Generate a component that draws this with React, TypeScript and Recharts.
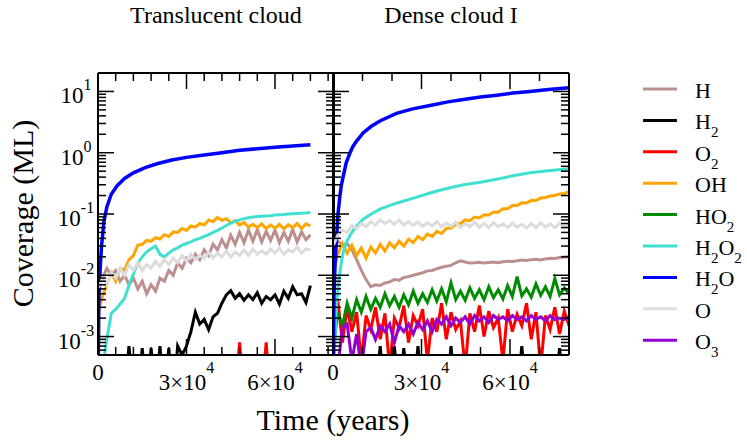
import { LineChart, Line, XAxis, YAxis, Legend } from 'recharts';

const FONT = '"Liberation Serif", "Times New Roman", Times, serif';
const W = 747;
const H = 442;

// time grids (years)
const leftTime = [
  0, 1500, 3000, 4500, 6000, 7500, 9000, 10500, 12000, 13500,
  15000, 16500, 18000, 19500, 21000, 22500, 24000, 25500, 27000, 28500,
  30000, 31500, 33000, 34500, 36000, 37500, 39000, 40500, 42000, 43500,
  45000, 46500, 48000, 49500, 51000, 52500, 54000, 55500, 57000, 58500,
  60000, 61500, 63000, 64500, 66000, 67500, 69000, 70500, 72000,
];
const leftSmoothTime = [
  0, 300, 700, 1200, 2000, 3000, 4500, 6500, 9000, 12000, 16000, 20000,
  25000, 30000, 36000, 42000, 48000, 54000, 60000, 66000, 72000,
];
const rightTime = [
  0, 1600, 3200, 4800, 6400, 8000, 9600, 11200, 12800, 14400,
  16000, 17600, 19200, 20800, 22400, 24000, 25600, 27200, 28800, 30400,
  32000, 33600, 35200, 36800, 38400, 40000, 41600, 43200, 44800, 46400,
  48000, 49600, 51200, 52800, 54400, 56000, 57600, 59200, 60800, 62400,
  64000, 65600, 67200, 68800, 70400, 72000, 73600, 75200, 76800, 78400,
  80000,
];
const rightSmoothTime = [
  0, 300, 700, 1200, 1700, 2300, 2800, 3500, 4500, 5700, 6800, 8000, 10200,
  13000, 15900, 21500, 27000, 32900, 38500, 44200, 50000, 55500, 61000,
  66800, 73000, 80000,
];

// Translucent cloud, coverage (ML)
const leftH = [
  0.012, 0.009, 0.013, 0.010, 0.012, 0.008, 0.010, 0.007, 0.009, 0.006,
  0.008, 0.005, 0.007, 0.0055, 0.009, 0.008, 0.012, 0.010, 0.016, 0.013,
  0.019, 0.016, 0.022, 0.018, 0.026, 0.021, 0.032, 0.026, 0.038, 0.028,
  0.045, 0.032, 0.050, 0.034, 0.055, 0.036, 0.056, 0.035, 0.052, 0.037,
  0.055, 0.034, 0.050, 0.036, 0.056, 0.035, 0.051, 0.038, 0.046,
];
const leftH2 = [
  0.0001, 0.0001, 0.0001, 0.0001, 0.0001, 0.0001, 0.0001, 0.0007, 0.0001, 0.0001,
  0.00065, 0.0001, 0.00065, 0.0001, 0.0007, 0.0001, 0.00065, 0.0001, 0.0007, 0.0005,
  0.0007, 0.0012, 0.0025, 0.0016, 0.0019, 0.0013, 0.0021, 0.0024, 0.0035, 0.0048,
  0.0056, 0.0042, 0.0050, 0.0039, 0.0048, 0.0040, 0.0052, 0.0035, 0.0045, 0.0040,
  0.0048, 0.0034, 0.0055, 0.0042, 0.0065, 0.0048, 0.0050, 0.0036, 0.0068,
];
const leftO2 = [
  0.0001, 0.0001, 0.0001, 0.0001, 0.0001, 0.0001, 0.0001, 0.0001, 0.0001, 0.0001,
  0.0001, 0.0001, 0.0001, 0.0001, 0.0001, 0.0001, 0.0001, 0.0001, 0.0001, 0.0001,
  0.0001, 0.0001, 0.0001, 0.0001, 0.0001, 0.0001, 0.0001, 0.0001, 0.0001, 0.0001,
  0.0001, 0.0001, 0.0008, 0.0001, 0.0001, 0.0001, 0.0001, 0.0001, 0.0008, 0.0001,
  0.0001, 0.0001, 0.0001, 0.0001, 0.0001, 0.0001, 0.0001, 0.0001, 0.0001,
];
const leftOH = [
  0.0025, 0.0045, 0.007, 0.011, 0.008, 0.013, 0.012, 0.018, 0.021, 0.031,
  0.032, 0.037, 0.036, 0.041, 0.039, 0.046, 0.043, 0.051, 0.050, 0.058,
  0.054, 0.064, 0.061, 0.070, 0.066, 0.080, 0.075, 0.088, 0.079, 0.084,
  0.072, 0.078, 0.066, 0.073, 0.061, 0.068, 0.060, 0.069, 0.058, 0.066,
  0.059, 0.068, 0.057, 0.067, 0.060, 0.070, 0.058, 0.069, 0.064,
];
const leftH2O2 = [
  0.0002, 0.0003, 0.0009, 0.0024, 0.0028, 0.0034, 0.0042, 0.0068, 0.0105, 0.016,
  0.020, 0.024, 0.027, 0.030, 0.022, 0.020, 0.023, 0.026, 0.028, 0.031,
  0.033, 0.035, 0.038, 0.040, 0.043, 0.046, 0.050, 0.054, 0.059, 0.065,
  0.071, 0.076, 0.080, 0.084, 0.087, 0.089, 0.091, 0.092, 0.093, 0.094,
  0.096, 0.097, 0.098, 0.100, 0.101, 0.102, 0.103, 0.104, 0.106,
];
const leftH2O = [
  0.0001, 0.004, 0.012, 0.03, 0.075, 0.13, 0.21, 0.29, 0.38, 0.47, 0.57,
  0.66, 0.76, 0.84, 0.92, 1.0, 1.1, 1.16, 1.23, 1.29, 1.35,
];
const leftO = [
  0.006, 0.009, 0.007, 0.011, 0.009, 0.013, 0.010, 0.015, 0.012, 0.016,
  0.012, 0.015, 0.013, 0.017, 0.014, 0.018, 0.015, 0.019, 0.016, 0.021,
  0.017, 0.022, 0.018, 0.021, 0.019, 0.024, 0.019, 0.023, 0.020, 0.025,
  0.020, 0.024, 0.021, 0.026, 0.021, 0.027, 0.022, 0.025, 0.022, 0.027,
  0.023, 0.028, 0.022, 0.026, 0.024, 0.029, 0.023, 0.027, 0.026,
];

// Dense cloud I, coverage (ML)
const rightH = [
  0.030, 0.036, 0.031, 0.033, 0.026, 0.018, 0.012, 0.0085, 0.0065, 0.0070,
  0.0068, 0.0075, 0.0078, 0.0085, 0.0083, 0.0092, 0.0095, 0.0100, 0.0105, 0.0110,
  0.0118, 0.0120, 0.0128, 0.0135, 0.0140, 0.0145, 0.0160, 0.0172, 0.0165, 0.0158,
  0.0160, 0.0163, 0.0158, 0.0162, 0.0165, 0.0160, 0.0166, 0.0170, 0.0168, 0.0172,
  0.0178, 0.0175, 0.0180, 0.0182, 0.0178, 0.0185, 0.0190, 0.0188, 0.0195, 0.0198,
  0.0200,
];
const rightH2 = [
  0.0001, 0.0001, 0.0001, 0.0001, 0.0001, 0.0001, 0.0001, 0.0001, 0.0001, 0.0001,
  0.0007, 0.0001, 0.0001, 0.0007, 0.0001, 0.00065, 0.0001, 0.0001, 0.0007, 0.0001,
  0.0001, 0.0001, 0.0001, 0.0001, 0.0001, 0.0007, 0.0001, 0.0001, 0.0001, 0.0001,
  0.0001, 0.0001, 0.0001, 0.0001, 0.0001, 0.0001, 0.0001, 0.0001, 0.0001, 0.0001,
  0.0007, 0.0001, 0.0001, 0.0001, 0.0001, 0.0001, 0.0001, 0.0001, 0.00065, 0.0001,
  0.0001,
];
const rightO2 = [
  0.002, 0.004, 0.0008, 0.003, 0.0012, 0.0025, 0.0004, 0.0022, 0.0013, 0.003,
  0.0009, 0.0024, 0.0003, 0.002, 0.0014, 0.0032, 0.0008, 0.0022, 0.0015, 0.0028,
  0.0004, 0.002, 0.0012, 0.0035, 0.0009, 0.0025, 0.0013, 0.0018, 0.0003, 0.0024,
  0.0012, 0.0032, 0.001, 0.0026, 0.0014, 0.002, 0.0004, 0.0028, 0.0012, 0.0023,
  0.0015, 0.0035, 0.0009, 0.0025, 0.0003, 0.0022, 0.0013, 0.003, 0.0011, 0.0026,
  0.0015,
];
const rightOH = [
  0.010, 0.022, 0.033, 0.023, 0.031, 0.021, 0.028, 0.019, 0.029, 0.023,
  0.032, 0.025, 0.034, 0.028, 0.036, 0.030, 0.039, 0.034, 0.043, 0.038,
  0.047, 0.043, 0.052, 0.048, 0.058, 0.059, 0.068, 0.070, 0.080, 0.078,
  0.089, 0.086, 0.097, 0.096, 0.108, 0.107, 0.122, 0.122, 0.137, 0.137,
  0.152, 0.151, 0.167, 0.166, 0.182, 0.186, 0.197, 0.201, 0.212, 0.216,
  0.232,
];
const rightHO2 = [
  0.0006, 0.0025, 0.0015, 0.0035, 0.002, 0.004, 0.0025, 0.0045, 0.0028, 0.0042,
  0.003, 0.005, 0.0032, 0.0045, 0.003, 0.0048, 0.0033, 0.0055, 0.0035, 0.005,
  0.0036, 0.0058, 0.0038, 0.006, 0.0037, 0.0075, 0.004, 0.0055, 0.0039, 0.0062,
  0.0042, 0.0058, 0.004, 0.0065, 0.0043, 0.0058, 0.0041, 0.0068, 0.0045, 0.0095,
  0.0046, 0.006, 0.0044, 0.0072, 0.0047, 0.0065, 0.0045, 0.0088, 0.0048, 0.0062,
  0.005,
];
const rightH2O2 = [
  0.0001, 0.0003, 0.001, 0.0034, 0.006, 0.011, 0.016, 0.024, 0.034, 0.044,
  0.054, 0.063, 0.082, 0.10, 0.12, 0.15, 0.18, 0.22, 0.26, 0.30, 0.33, 0.37,
  0.42, 0.47, 0.51, 0.55,
];
const rightH2O = [
  0.0001, 0.004, 0.015, 0.04, 0.1, 0.19, 0.29, 0.42, 0.69, 0.98, 1.28, 1.55,
  2.1, 2.7, 3.3, 4.4, 5.2, 5.9, 6.7, 7.4, 8.1, 8.7, 9.4, 10.0, 10.8, 11.5,
];
const rightO = [
  0.030, 0.045, 0.055, 0.050, 0.065, 0.058, 0.070, 0.062, 0.075, 0.066,
  0.080, 0.070, 0.078, 0.068, 0.080, 0.066, 0.075, 0.065, 0.074, 0.063,
  0.072, 0.064, 0.075, 0.062, 0.071, 0.063, 0.074, 0.060, 0.070, 0.062,
  0.073, 0.061, 0.070, 0.060, 0.072, 0.062, 0.069, 0.060, 0.071, 0.061,
  0.068, 0.059, 0.070, 0.060, 0.072, 0.061, 0.069, 0.060, 0.071, 0.062,
  0.068,
];
const rightO3 = [
  0.0001, 0.0003, 0.0014, 0.0016, 0.0004, 0.0011, 0.0003, 0.0012, 0.0014, 0.0009,
  0.0015, 0.0012, 0.0016, 0.0008, 0.0015, 0.0012, 0.0016, 0.0011, 0.0017, 0.0013,
  0.0018, 0.0012, 0.0019, 0.0016, 0.0021, 0.0015, 0.002, 0.0017, 0.0021, 0.0016,
  0.0022, 0.0018, 0.0021, 0.0017, 0.0022, 0.0019, 0.0021, 0.0018, 0.0022, 0.0019,
  0.0021, 0.0018, 0.0022, 0.0019, 0.0021, 0.0018, 0.0022, 0.0019, 0.002, 0.0019,
  0.0021,
];

// ticks
const yDecades = [0.001, 0.01, 0.1, 1, 10];
const yMinorSteps = [2, 3, 4, 5, 6, 7, 8, 9];
const yTicks = [
  0.0005, 0.0006, 0.0007, 0.0008, 0.0009,
  ...yDecades.flatMap((d) => [d, ...yMinorSteps.map((m) => d * m).filter((v) => v < 20)]),
];
const leftXTicks = [0, 6000, 12000, 18000, 24000, 30000, 36000, 42000, 48000, 54000, 60000, 66000, 72000, 78000];
const rightXTicks = [0, 10000, 20000, 30000, 40000, 50000, 60000, 70000];
const xMajor = [0, 30000, 60000];
const xLabels: Record<number, [string, string]> = {
  0: ['0', ''],
  30000: ['3×10', '4'],
  60000: ['6×10', '4'],
};

const colors: Record<string, string> = {
  H: '#bc8f8f',
  H2: '#000000',
  O2: '#ff0000',
  OH: '#ffa500',
  HO2: '#008c00',
  H2O2: '#40e0d0',
  H2O: '#0000ff',
  O: '#dcdcdc',
  O3: '#9400d3',
};
const legendOrder = ['H', 'H2', 'O2', 'OH', 'HO2', 'H2O2', 'H2O', 'O', 'O3'];

const pair = (t: number[], v: number[]) => t.map((x, i) => ({ t: x, v: v[i] }));

const leftSeries = [
  { name: 'H', data: pair(leftTime, leftH) },
  { name: 'H2', data: pair(leftTime, leftH2) },
  { name: 'O2', data: pair(leftTime, leftO2) },
  { name: 'OH', data: pair(leftTime, leftOH) },
  { name: 'H2O2', data: pair(leftTime, leftH2O2) },
  { name: 'H2O', data: pair(leftSmoothTime, leftH2O) },
  { name: 'O', data: pair(leftTime, leftO) },
];
const rightSeries = [
  { name: 'H', data: pair(rightTime, rightH) },
  { name: 'H2', data: pair(rightTime, rightH2) },
  { name: 'O2', data: pair(rightTime, rightO2) },
  { name: 'OH', data: pair(rightTime, rightOH) },
  { name: 'HO2', data: pair(rightTime, rightHO2) },
  { name: 'H2O2', data: pair(rightSmoothTime, rightH2O2) },
  { name: 'H2O', data: pair(rightSmoothTime, rightH2O) },
  { name: 'O', data: pair(rightTime, rightO) },
  { name: 'O3', data: pair(rightTime, rightO3) },
];

const MAJOR = 16;
const MINOR = 8;
const AX = 1; // axis band size
const axisLine = { stroke: '#000', strokeWidth: 2 };

function YTick(props: any) {
  const { x, y, payload, dir, labels } = props;
  const e = Math.log10(payload.value);
  const major = Math.abs(e - Math.round(e)) < 1e-6;
  const len = major ? MAJOR : MINOR;
  return (
    <g>
      <line x1={x} x2={x + dir * len} y1={y} y2={y} stroke="#000" strokeWidth={1.5} />
      {labels && major && (
        <text x={x - 22} y={y + 12} textAnchor="middle" fontSize={23} fontFamily={FONT} fill="#000">
          10
          <tspan dy={-13} fontSize={16}>{String(Math.round(e))}</tspan>
        </text>
      )}
    </g>
  );
}

function XTick(props: any) {
  const { x, y, payload, dir, labels } = props;
  const v = payload.value;
  const major = xMajor.includes(v);
  const len = major ? MAJOR : MINOR;
  const lab = xLabels[v];
  return (
    <g>
      <line x1={x} x2={x} y1={y} y2={y + dir * len} stroke="#000" strokeWidth={1.5} />
      {labels && lab && (
        <text x={x} y={y + (lab[1] ? 35 : 25)} textAnchor="middle" fontSize={23} fontFamily={FONT} fill="#000">
          {lab[0]}
          {lab[1] && (
            <tspan dy={-17} fontSize={16}>{lab[1]}</tspan>
          )}
        </text>
      )}
    </g>
  );
}

function Formula({ text, x, y }: { text: string; x: number; y: number }) {
  const parts = text.match(/[A-Z]+|\d+/g) || [];
  let sub = false;
  return (
    <text x={x} y={y} fontSize={22} fontFamily={FONT} fill="#000">
      {parts.map((p, i) => {
        const isNum = /\d/.test(p);
        const dy = isNum ? 8 : sub ? -8 : 0;
        sub = isNum;
        return (
          <tspan key={i} dy={dy} fontSize={isNum ? 15 : 22}>
            {p}
          </tspan>
        );
      })}
    </text>
  );
}

function LegendBox() {
  return (
    <svg width={110} height={300}>
      {legendOrder.map((k, i) => {
        const cy = 14 + i * 31.4;
        return (
          <g key={k}>
            <line x1={3} x2={37} y1={cy} y2={cy} stroke={colors[k]} strokeWidth={3} />
            <Formula text={k} x={55} y={cy + 9} />
          </g>
        );
      })}
    </svg>
  );
}

function Panel({ left, series, xTicks, yLabels, legend }: any) {
  const plotW = 236;
  return (
    <div style={{ position: 'absolute', left: 0, top: 0 }}>
      <LineChart
        width={W}
        height={H}
        margin={{ top: 73 - AX, bottom: H - 355 - AX, left: left - AX, right: W - left - plotW - AX }}
      >
        <XAxis
          xAxisId="b"
          type="number"
          dataKey="t"
          domain={[0, 80000]}
          allowDataOverflow
          ticks={xTicks}
          interval={0}
          height={AX}
          tickSize={0}
          tickMargin={0}
          tickLine={false}
          axisLine={axisLine}
          tick={(p: any) => <XTick {...p} dir={-1} labels />}
        />
        <XAxis
          xAxisId="t"
          orientation="top"
          type="number"
          dataKey="t"
          domain={[0, 80000]}
          allowDataOverflow
          ticks={xTicks}
          interval={0}
          height={AX}
          tickSize={0}
          tickMargin={0}
          tickLine={false}
          axisLine={axisLine}
          tick={(p: any) => <XTick {...p} dir={1} />}
        />
        <YAxis
          yAxisId="l"
          scale="log"
          type="number"
          domain={[0.0005, 20]}
          allowDataOverflow
          ticks={yTicks}
          interval={0}
          width={AX}
          tickSize={0}
          tickMargin={0}
          tickLine={false}
          axisLine={axisLine}
          tick={(p: any) => <YTick {...p} dir={1} labels={yLabels} />}
        />
        <YAxis
          yAxisId="r"
          orientation="right"
          scale="log"
          type="number"
          domain={[0.0005, 20]}
          allowDataOverflow
          ticks={yTicks}
          interval={0}
          width={AX}
          tickSize={0}
          tickMargin={0}
          tickLine={false}
          axisLine={axisLine}
          tick={(p: any) => <YTick {...p} dir={-1} />}
        />
        {series.map((s: any) => (
          <Line
            key={s.name}
            xAxisId="b"
            yAxisId="l"
            data={s.data}
            dataKey="v"
            name={s.name}
            type="linear"
            stroke={colors[s.name]}
            strokeWidth={s.name === 'H2O' ? 3.5 : 3}
            dot={false}
            activeDot={false}
            isAnimationActive={false}
          />
        ))}
        {legend && (
          <Legend
            layout="vertical"
            align="center"
            verticalAlign="middle"
            content={() => <LegendBox />}
            wrapperStyle={{ left: 640, top: 75, width: 110, height: 300 }}
          />
        )}
      </LineChart>
    </div>
  );
}

export default function App() {
  return (
    <div style={{ position: 'absolute', left: 0, top: 0, width: W, height: H, background: '#fff', overflow: 'hidden' }}>
      <Panel left={98} series={leftSeries} xTicks={leftXTicks} yLabels />
      <Panel left={333} series={rightSeries} xTicks={rightXTicks} legend />
      <svg width={W} height={H} style={{ position: 'absolute', left: 0, top: 0, pointerEvents: 'none' }}>
        <g fontFamily={FONT} fill="#000">
          <text x={216} y={23} textAnchor="middle" fontSize={24}>Translucent cloud</text>
          <text x={451} y={23} textAnchor="middle" fontSize={24}>Dense cloud I</text>
          <text x={333} y={430} textAnchor="middle" fontSize={30}>Time (years)</text>
          <text transform="translate(33,213.5) rotate(-90)" textAnchor="middle" fontSize={30}>
            Coverage (ML)
          </text>
        </g>
      </svg>
    </div>
  );
}
